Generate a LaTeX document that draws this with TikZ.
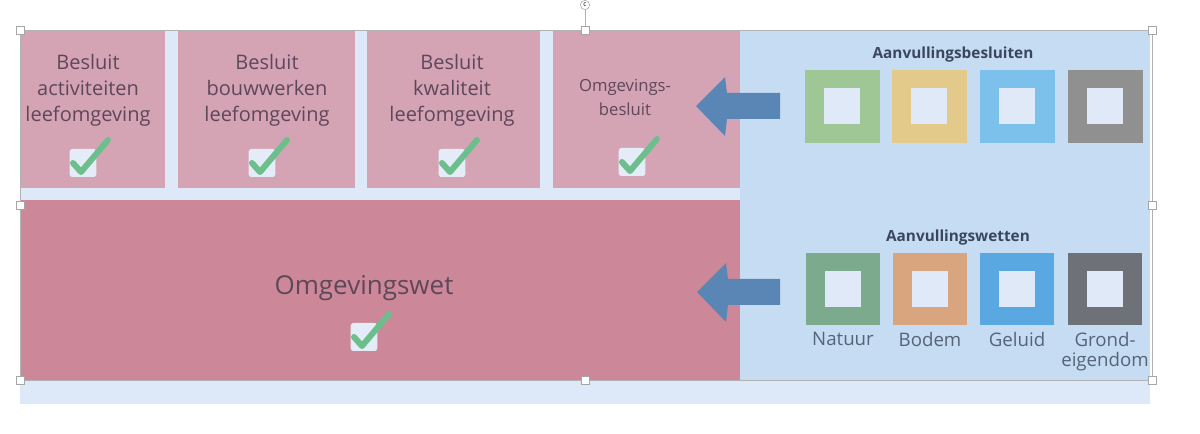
\documentclass[tikz,border=0pt]{standalone}
\usepackage{fontspec}
\setmainfont{Open Sans}
\begin{document}
\begin{tikzpicture}[x=0.75pt,y=-0.75pt,
  pinkbox/.style={fill=boxpink,draw=none},
  lbl/.style={text=txtcol,font=\fontsize{15pt}{19.5pt}\selectfont,align=center,inner sep=0pt},
  head/.style={text=headcol,font=\fontsize{11.5pt}{14pt}\selectfont\bfseries,inner sep=0pt},
  sub/.style={text=subcol,font=\fontsize{14pt}{15pt}\selectfont,align=center,inner sep=0pt},
  arrowshape/.style={fill=arrcol,draw=none},
  handle/.style={draw=gray!70,fill=white,line width=0.5pt,minimum size=6pt,inner sep=0pt}]
\definecolor{bgl}{HTML}{DDE9F9}
\definecolor{panel}{HTML}{C5DCF3}
\definecolor{boxpink}{HTML}{D4A4B4}
\definecolor{bigpink}{HTML}{CC8898}
\definecolor{txtcol}{HTML}{5F475A}
\definecolor{headcol}{HTML}{3A465C}
\definecolor{subcol}{HTML}{566478}
\definecolor{arrcol}{HTML}{5A86B6}
\definecolor{chk}{HTML}{6CBF8C}
\definecolor{chkbox}{HTML}{E4ECF7}
\definecolor{sqg1}{HTML}{9FC796}
\definecolor{sqy1}{HTML}{E3C98A}
\definecolor{sqb1}{HTML}{7CC0EC}
\definecolor{sqk1}{HTML}{909090}
\definecolor{sqg2}{HTML}{7BAA8C}
\definecolor{sqo2}{HTML}{D9A57F}
\definecolor{sqb2}{HTML}{5AA8E1}
\definecolor{sqk2}{HTML}{6E7278}
\definecolor{inner}{HTML}{DFE9F8}
\useasboundingbox (0,0) rectangle (1200,434);
\fill[white] (0,0) rectangle (1200,434);
% backgrounds
\fill[bgl] (20,30) rectangle (1150,404);
\fill[panel] (740,30) rectangle (1150,380);
% top boxes
\node[pinkbox,minimum width=145*0.75pt,minimum height=158*0.75pt,anchor=north west,inner sep=0pt] (b1) at (20,30) {};
\node[pinkbox,minimum width=177*0.75pt,minimum height=158*0.75pt,anchor=north west,inner sep=0pt] (b2) at (178,30) {};
\node[pinkbox,minimum width=173*0.75pt,minimum height=158*0.75pt,anchor=north west,inner sep=0pt] (b3) at (367,30) {};
\node[pinkbox,minimum width=187*0.75pt,minimum height=158*0.75pt,anchor=north west,inner sep=0pt] (b4) at (553,30) {};
\node[fill=bigpink,minimum width=720*0.75pt,minimum height=180*0.75pt,anchor=north west,inner sep=0pt] (bw) at (20,200) {};
% texts
\node[lbl] (t1) at (88,90) {Besluit\\activiteiten\\leefomgeving};
\node[lbl] (t2) at (267,90) {Besluit\\bouwwerken\\leefomgeving};
\node[lbl] (t3) at (452,90) {Besluit\\kwaliteit\\leefomgeving};
\node[lbl,font=\fontsize{12.5pt}{18pt}\selectfont] (t4) at (625,97) {Omgevings-\\besluit};
\node[lbl,font=\fontsize{19.5pt}{22pt}\selectfont] (tw) at (364,288) {Omgevingswet};
% checkmarks
\foreach \n/\cx/\cy in {c1/83/163, c2/262/163, c3/452/163, c4/632/162, cw/364/337}{
  \node[fill=chkbox,rounded corners=2pt,minimum width=20pt,minimum height=21pt,inner sep=0pt] (\n) at (\cx,\cy) {};
  \draw[chk,line width=4.5pt,line cap=round,line join=round]
    ([shift={(-10,0)}]\n.center) -- ([shift={(-2,9)}]\n.center) -- ([shift={(25,-23)}]\n.center);
}
% arrows
\fill[arrcol] (696,106) -- (725,77) -- (727,93) -- (780,93) -- (780,119) -- (727,119) -- (725,136) -- cycle;
\fill[arrcol] (697,292) -- (726,263) -- (728,279) -- (780,279) -- (780,305) -- (728,305) -- (726,322) -- cycle;
% headings
\node[head] (h1) at (953,55) {Aanvullingsbesluiten};
\node[head] (h2) at (958,238) {Aanvullingswetten};
% squares top
\foreach \n/\x/\c in {s1/842/sqg1, s2/929/sqy1, s3/1017/sqb1, s4/1105/sqk1}{
  \node[fill=\c,minimum width=75*0.75pt,minimum height=73*0.75pt,inner sep=0pt] (\n) at (\x,106.5) {};
  \node[fill=inner,minimum width=36*0.75pt,minimum height=36*0.75pt,inner sep=0pt] at (\n.center) {};
}
% squares bottom
\foreach \n/\x/\c in {w1/843/sqg2, w2/930/sqo2, w3/1017/sqb2, w4/1105/sqk2}{
  \node[fill=\c,minimum width=74*0.75pt,minimum height=72*0.75pt,inner sep=0pt] (\n) at (\x,289) {};
  \node[fill=inner,minimum width=36*0.75pt,minimum height=36*0.75pt,inner sep=0pt] at (\n.center) {};
}
\node[sub,anchor=north] (l1) at (843,332) {Natuur};
\node[sub,anchor=north] (l2) at (930,332) {Bodem};
\node[sub,anchor=north] (l3) at (1017,332) {Geluid};
\node[sub,anchor=north] (l4) at (1105,332) {Grond-\\eigendom};
% selection frame and handles
\draw[gray!60,line width=0.5pt] (20,30) rectangle (1152,380);
\draw[gray!60,line width=0.5pt] (585,30) -- (585,10);
\node[draw=gray!70,fill=white,circle,minimum size=7pt,inner sep=0pt,font=\fontsize{5pt}{5pt}\selectfont] (rot) at (585,5) {c};
\foreach \n/\hx/\hy in {ha/20/30, hb/585/30, hc/1152/30, hd/20/205, he/1152/205, hf/20/380, hg/585/380, hh/1152/380}{
  \node[handle] (\n) at (\hx,\hy) {};
}
\end{tikzpicture}
\end{document}
